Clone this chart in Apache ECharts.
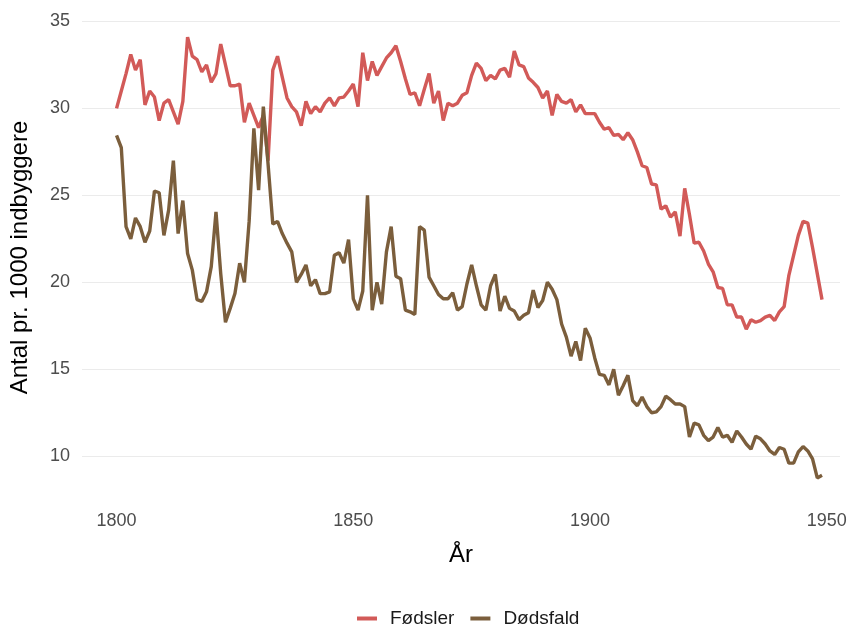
<!DOCTYPE html>
<html>
<head>
<meta charset="utf-8">
<script src="https://cdn.jsdelivr.net/npm/echarts@6/dist/echarts.min.js"></script>
<style>
  html, body { margin: 0; padding: 0; background: #fff; }
  #chart { width: 850px; height: 625px; }
</style>
</head>
<body>
<div id="chart"></div>
<script>
// årstal 1800-1949
var startYear = 1800
var fodsler = [
  30.0, 31.0, 32.0, 33.1, 32.2, 32.8, 30.2, 31.0, 30.65, 29.3,
  30.3, 30.5, 29.8, 29.1, 30.4, 34.1, 33.0, 32.8, 32.1, 32.5,
  31.5, 32.0, 33.7, 32.5, 31.3, 31.3, 31.4, 29.2, 30.3, 29.6,
  28.9, 29.6, 27.0, 32.2, 33.0, 31.8, 30.6, 30.1, 29.8, 29.0,
  30.4, 29.7, 30.1, 29.8, 30.3, 30.6, 30.15, 30.6, 30.65, 31.0,
  31.4, 30.1, 33.2, 31.6, 32.7, 31.9, 32.4, 32.9, 33.2, 33.6,
  32.7, 31.7, 30.8, 30.9, 30.15, 31.1, 32.0, 30.3, 31.0, 29.3,
  30.3, 30.15, 30.3, 30.75, 30.9, 31.9, 32.6, 32.3, 31.6, 31.9,
  31.7, 32.2, 32.3, 31.8, 33.3, 32.5, 32.4, 31.75, 31.5, 31.2,
  30.6, 31.0, 29.6, 30.8, 30.4, 30.3, 30.5, 29.8, 30.2, 29.7,
  29.7, 29.7, 29.2, 28.8, 28.9, 28.45, 28.5, 28.2, 28.6, 28.2,
  27.5, 26.7, 26.6, 25.65, 25.6, 24.2, 24.4, 23.75, 24.05, 22.65,
  25.4, 23.9, 22.25, 22.3, 21.8, 21.05, 20.6, 19.7, 19.65, 18.7,
  18.7, 18.0, 18.0, 17.3, 17.85, 17.7, 17.8, 18.0, 18.1, 17.8,
  18.3, 18.6, 20.4, 21.55, 22.7, 23.5, 23.4, 22.0, 20.5, 19.0
]
var dodsfald = [
  28.45, 27.75, 23.2, 22.5, 23.7, 23.2, 22.3, 22.95, 25.25, 25.15,
  22.7, 24.15, 27.0, 22.8, 24.7, 21.65, 20.7, 19.0, 18.9, 19.45,
  20.9, 24.05, 20.5, 17.7, 18.5, 19.35, 21.1, 20.0, 23.5, 28.85,
  25.3, 30.1, 26.8, 23.35, 23.5, 22.8, 22.25, 21.75, 20.0, 20.45,
  21.0, 19.8, 20.15, 19.35, 19.35, 19.45, 21.55, 21.7, 21.1, 22.45,
  19.05, 18.4, 19.5, 25.0, 18.4, 20.0, 18.75, 21.75, 23.2, 20.35,
  20.2, 18.4, 18.3, 18.15, 23.2, 23.0, 20.3, 19.8, 19.3, 19.05,
  19.05, 19.4, 18.4, 18.6, 19.9, 21.0, 19.8, 18.7, 18.4, 19.8,
  20.45, 18.35, 19.2, 18.5, 18.35, 17.85, 18.1, 18.25, 19.55, 18.55,
  18.95, 20.0, 19.6, 19.0, 17.6, 16.85, 15.75, 16.6, 15.5, 17.35,
  16.8, 15.65, 14.7, 14.65, 14.1, 15.0, 13.5, 14.05, 14.65, 13.2,
  12.9, 13.4, 12.85, 12.5, 12.55, 12.85, 13.45, 13.25, 13.0, 13.0,
  12.85, 11.1, 11.9, 11.8, 11.2, 10.9, 11.1, 11.65, 11.1, 11.2,
  10.8, 11.45, 11.1, 10.7, 10.4, 11.15, 11.0, 10.7, 10.3, 10.1,
  10.5, 10.4, 9.6, 9.6, 10.25, 10.55, 10.3, 9.85, 8.75, 8.9
]
var xTicks = [1800, 1850, 1900, 1950]
var yTicks = [10, 15, 20, 25, 30, 35]

var years = []
for (var i = 0; i < fodsler.length; i++) years.push(startYear + i)
var pairs = function (vals) {
  return years.map(function (y, i) { return [y, vals[i]] })
}

var chartDom = document.getElementById('chart')
var myChart = echarts.init(chartDom)
var option = {
  backgroundColor: '#fff',
  animation: false,
  textStyle: { fontFamily: 'Liberation Sans, Arial, sans-serif' },
  grid: {
    left: 82, right: 10, top: 15, bottom: 125,
    containLabel: false, outerBoundsMode: 'none'
  },
  legend: {
    top: 604, left: 352,
    icon: 'rect', itemWidth: 20, itemHeight: 4, itemGap: 16,
    textStyle: { fontSize: 19, color: '#1a1a1a', padding: [0, 0, 0, 8] },
    data: ['Fødsler', 'Dødsfald']
  },
  xAxis: {
    type: 'value',
    min: 1792.7, max: 1952.8,
    name: 'År', nameLocation: 'middle', nameGap: 43,
    nameTextStyle: { fontSize: 24, color: '#000' },
    axisLine: { show: false },
    axisTick: { show: false, customValues: xTicks },
    axisLabel: {
      customValues: xTicks, fontSize: 18, color: '#4d4d4d', margin: 12,
      formatter: function (v) { return String(v) }
    },
    splitLine: { show: false }
  },
  yAxis: {
    type: 'value',
    min: 7.48, max: 35.37,
    name: 'Antal pr. 1000 indbyggere', nameLocation: 'middle', nameGap: 50,
    nameTextStyle: { fontSize: 24, color: '#000' },
    axisLine: { show: false },
    axisTick: { show: false, customValues: yTicks },
    axisLabel: { customValues: yTicks, fontSize: 18, color: '#4d4d4d', margin: 12 },
    splitLine: { show: true, lineStyle: { color: '#ebebeb', width: 1 } }
  },
  series: [
    {
      name: 'Fødsler', type: 'line', data: pairs(fodsler),
      showSymbol: false, color: '#d25a58',
      lineStyle: { width: 3.4, color: '#d25a58' }
    },
    {
      name: 'Dødsfald', type: 'line', data: pairs(dodsfald),
      showSymbol: false, color: '#7b5e3c',
      lineStyle: { width: 3.4, color: '#7b5e3c' }
    }
  ]
}
option && myChart.setOption(option)
</script>
</body>
</html>
